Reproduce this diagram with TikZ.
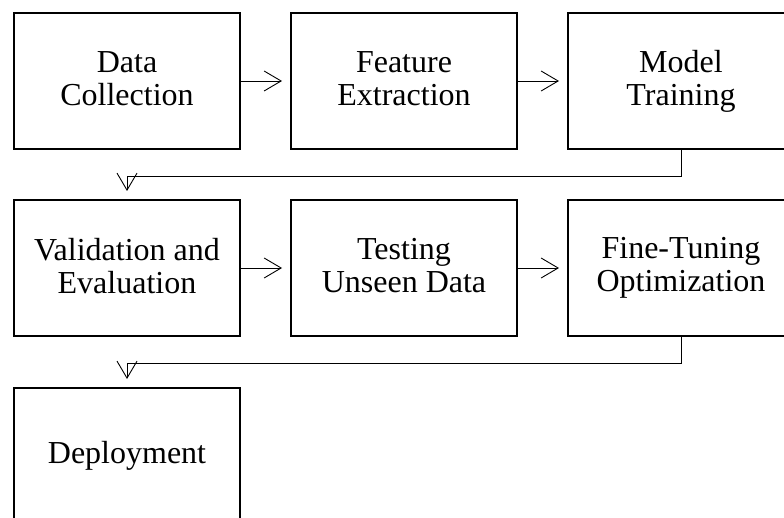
\documentclass[tikz,border=0pt]{standalone}
\usepackage{fontspec}
\setmainfont{Liberation Serif}
\usetikzlibrary{arrows.meta}
\newcommand\mystrut{\rule[-5pt]{0pt}{25pt}}
\begin{document}
\begin{tikzpicture}[x=1pt,y=-1pt,
  stage/.style={draw, line width=2pt, minimum width=226pt, minimum height=136pt,
    inner sep=0pt, align=center, font=\fontsize{32}{33}\selectfont},
  conn/.style={line width=0.9pt, -{Straight Barb[length=17pt,width=20pt,line width=0.9pt]}, shorten >=8pt}]
\clip (0,0) rectangle (784,518);
\fill[white] (0,0) rectangle (784,518);
\node[stage] (dc) at (127,81) {\mystrut Data\\\mystrut Collection};
\node[stage] (fe) at (404,81) {\mystrut Feature\\\mystrut Extraction};
\node[stage] (mt) at (681,81) {\mystrut Model\\\mystrut Training};
\node[stage] (ve) at (127,268) {\mystrut Validation and\\\mystrut Evaluation};
\node[stage] (tu) at (404,268) {\mystrut Testing\\\mystrut Unseen Data};
\node[stage] (ft) at (681,268) {\mystrut Fine-Tuning\\\mystrut Optimization};
\node[stage] (dp) at (127,456) {\mystrut Deployment};
\draw[conn] (dc) -- (fe);
\draw[conn] (fe) -- (mt);
\draw[conn] (mt.south) -- ++(0,26) -| (ve.north);
\draw[conn] (ve) -- (tu);
\draw[conn] (tu) -- (ft);
\draw[conn] (ft.south) -- ++(0,26) -| (dp.north);
\end{tikzpicture}
\end{document}
